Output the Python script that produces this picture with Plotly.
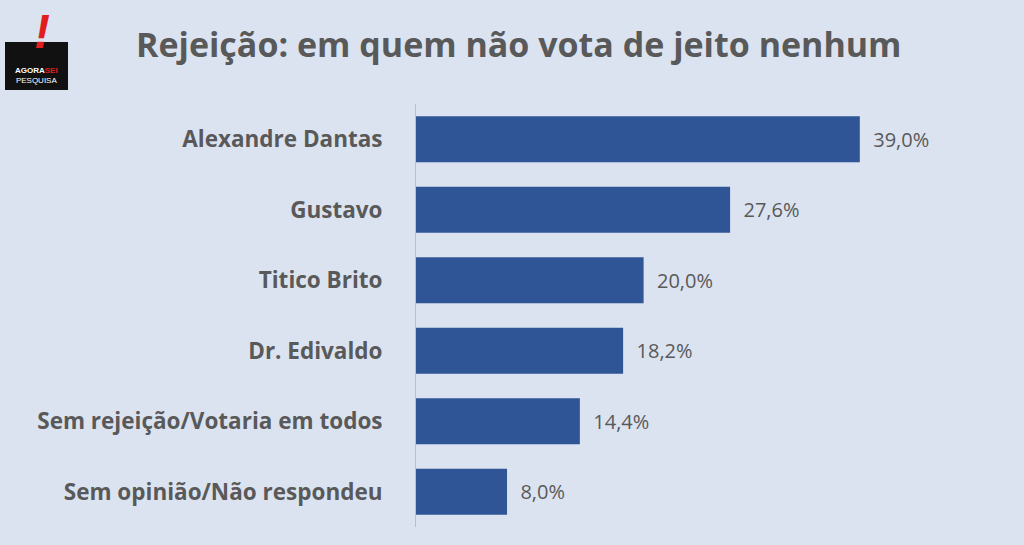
import plotly.graph_objects as go

categories = ["Alexandre Dantas", "Gustavo", "Titico Brito", "Dr. Edivaldo",
              "Sem rejeição/Votaria em todos", "Sem opinião/Não respondeu"]
values = [39.0, 27.6, 20.0, 18.2, 14.4, 8.0]
labels = ["39,0%", "27,6%", "20,0%", "18,2%", "14,4%", "8,0%"]

W, H = 1024, 545
L, R, T, B = 416, 24, 104, 18
pw, ph = W - L - R, H - T - B
def px(x): return (x - L) / pw
def py(y): return (H - B - y) / ph

fig = go.Figure(go.Bar(
    x=values, y=categories, orientation="h", width=0.65,
    marker=dict(color="#2f5597", line=dict(width=0)),
    text=labels, texttemplate="  %{text}", textposition="outside",
    textfont=dict(size=20, color="#595959", family="Open Sans"),
    cliponaxis=False,
))
fig.update_layout(
    width=W, height=H, margin=dict(l=L, r=R, t=T, b=B),
    paper_bgcolor="#dbe3f1", plot_bgcolor="#dbe3f1",
    showlegend=False,
    xaxis=dict(range=[0, pw / 11.38], visible=False),
    yaxis=dict(autorange="reversed", showline=True, linecolor="#bfbfbf", linewidth=1,
               ticks="", ticklabelstandoff=28,
               tickprefix="<b>", ticksuffix="</b>",
               tickfont=dict(size=22.5, color="#595959", family="Open Sans")),
    shapes=[dict(type="rect", xref="paper", yref="paper",
                 x0=px(5), x1=px(68), y0=py(90), y1=py(42),
                 fillcolor="#111111", line=dict(width=0))],
    annotations=[
        dict(text="<b>Rejeição: em quem não vota de jeito nenhum</b>", xref="paper", yref="paper",
             x=px(519), y=py(44), xanchor="center", yanchor="middle", showarrow=False,
             font=dict(size=34, color="#595959", family="Open Sans")),
        dict(text="<b><i>!</i></b>", xref="paper", yref="paper", x=px(42), y=py(3),
             xanchor="center", yanchor="top", showarrow=False,
             font=dict(size=48, color="#e01e1e", family="Liberation Sans")),
        dict(text="<b>AGORA<span style='color:#e01e1e'>SEI</span></b><br>PESQUISA", xref="paper", yref="paper",
             x=px(36), y=py(76), xanchor="center", yanchor="middle", showarrow=False,
             font=dict(size=8, color="white", family="Liberation Sans")),
    ],
)
fig.write_html("out.html", config={"displayModeBar": False})
with open("out.html", encoding="utf-8") as f:
    html = f.read()
html = html.replace("<head>", "<head><style>body{margin:0;background:#dbe3f1;}</style>", 1)
with open("out.html", "w", encoding="utf-8") as f:
    f.write(html)
